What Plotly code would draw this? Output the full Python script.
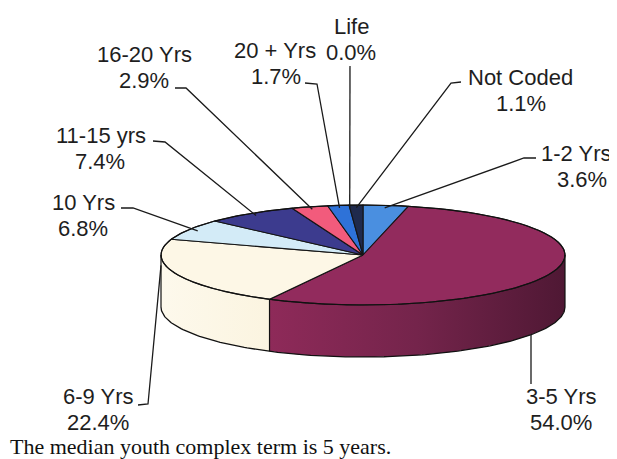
import numpy as np
import plotly.graph_objects as go

# ---------------- data ----------------
categories = ["1-2 Yrs", "3-5 Yrs", "6-9 Yrs", "10 Yrs", "11-15 yrs",
              "16-20 Yrs", "20 + Yrs", "Life", "Not Coded"]
percents = [3.6, 54.0, 22.4, 6.8, 7.4, 2.9, 1.7, 0.0, 1.1]
value_labels = ["3.6%", "54.0%", "22.4%", "6.8%", "7.4%", "2.9%", "1.7%", "0.0%", "1.1%"]
caption = "The median youth complex term is 5 years."

# ---------------- style / layout ----------------
top_colors = {
    "1-2 Yrs": "#4a8fe0", "3-5 Yrs": "#922b5d", "6-9 Yrs": "#fdf7e6",
    "10 Yrs": "#d3ebf7", "11-15 yrs": "#3c3b8e", "16-20 Yrs": "#f25b7c",
    "20 + Yrs": "#2e72d8", "Life": "#6a6a6a", "Not Coded": "#1f2a4c",
}
# wall gradient, left -> right
wall_scale = {
    "3-5 Yrs": [[0, "#8e2a59"], [0.5, "#74244b"], [1, "#4f1834"]],
    "6-9 Yrs": [[0, "#fdf9ec"], [1, "#fbf4e0"]],
}

W, H = 617, 459
CX, CY, A, B, DEPTH = 355, 247, 202, 50, 52
FONT = "Liberation Sans, Arial, sans-serif"
LABEL_SIZE = 22

# label layout: centre of line 1 (x1, y1), centre of line 2 (x2, y2),
# leader path points near the label, anchor type
label_layout = {
    "Life":      dict(x1=343, y1=18,  x2=343, y2=44,  path=[(342, 58)], anchor="top"),
    "20 + Yrs":  dict(x1=267, y1=42,  x2=268, y2=68,  path=[(297, 75), (309, 76)], anchor="top"),
    "16-20 Yrs": dict(x1=136, y1=46,  x2=136, y2=72,  path=[(167, 80), (178, 80)], anchor="top"),
    "Not Coded": dict(x1=512, y1=69,  x2=513, y2=95,  path=[(453, 74), (443, 75)], anchor="top"),
    "11-15 yrs": dict(x1=93,  y1=127, x2=92,  y2=153, path=[(145, 133), (157, 134)], anchor="top"),
    "1-2 Yrs":   dict(x1=568, y1=145, x2=574, y2=171, path=[(528, 150), (516, 150)], anchor="top"),
    "10 Yrs":    dict(x1=75,  y1=194, x2=75,  y2=220, path=[(113, 200), (125, 200)], anchor="top"),
    "6-9 Yrs":   dict(x1=90,  y1=388, x2=90,  y2=414, path=[(130, 397), (140, 396)], anchor="edge"),
    "3-5 Yrs":   dict(x1=553, y1=388, x2=553, y2=414, path=[(523, 376)], anchor="below"),
}


def rim(theta_deg, f=1.0, dz=0.0):
    t = np.radians(theta_deg)
    return CX + f * A * np.sin(t), CY - f * B * np.cos(t) + dz


total = sum(percents)
spans = np.array(percents) / total * 360.0
starts = np.concatenate([[0.0], np.cumsum(spans)[:-1]])
ends = starts + spans

fig = go.Figure()


def poly(xs, ys, fill, line_color=None, line_width=0.0, gradient=None):
    kw = {}
    if gradient is not None:
        kw["fillgradient"] = dict(type="horizontal", colorscale=gradient)
    fig.add_trace(go.Scatter(
        x=list(xs), y=list(ys), mode="lines", fill="toself",
        fillcolor=fill, line=dict(color=line_color or fill, width=line_width),
        hoverinfo="skip", showlegend=False, **kw))


def line(xs, ys, color="#111111", width=1.3):
    fig.add_trace(go.Scatter(
        x=list(xs), y=list(ys), mode="lines",
        line=dict(color=color, width=width),
        hoverinfo="skip", showlegend=False))


# ---- side walls (front half: 90..270 deg) ----
wall_edges = set([90.0, 270.0])
for cat, s, e in zip(categories, starts, ends):
    lo, hi = max(s, 90.0), min(e, 270.0)
    if hi <= lo:
        continue
    if 90.0 < s < 270.0:
        wall_edges.add(s)
    if 90.0 < e < 270.0:
        wall_edges.add(e)
    th = np.linspace(lo, hi, max(3, int(hi - lo) + 2))
    xt, yt = rim(th)
    xb, yb = rim(th[::-1], dz=DEPTH)
    scale = wall_scale.get(cat, [[0, "#999999"], [1, "#666666"]])
    poly(np.concatenate([xt, xb, xt[:1]]), np.concatenate([yt, yb, yt[:1]]),
         scale[0][1], scale[0][1], 0, gradient=scale)

# ---- top face slices ----
for cat, s, e in zip(categories, starts, ends):
    if e - s <= 0:
        continue
    th = np.linspace(s, e, max(3, int(e - s) + 2))
    xr, yr = rim(th)
    xs = np.concatenate([[CX], xr, [CX]])
    ys = np.concatenate([[CY], yr, [CY]])
    poly(xs, ys, top_colors[cat], "#151515", 1.1)

# ---- wall outlines ----
th = np.linspace(90, 270, 181)
xb, yb = rim(th, dz=DEPTH)
line(xb, yb, width=1.3)
for a in sorted(wall_edges):
    x0, y0 = rim(a)
    line([x0, x0], [y0, y0 + DEPTH], width=1.2)
th = np.linspace(0, 360, 361)
xr, yr = rim(th)
line(xr, yr, width=1.2)

# ---- leader lines and labels ----
annotations = []
for cat, lab, s, e in zip(categories, value_labels, starts, ends):
    L = label_layout[cat]
    mid = (s + e) / 2.0
    if L["anchor"] == "top":
        ax, ay = rim(mid, f=0.95)
    elif L["anchor"] == "below":
        px = L["path"][-1][0]
        ax = px
        ay = CY + B * np.sqrt(max(0.0, 1 - ((px - CX) / A) ** 2)) + DEPTH
    else:  # outer-most rim point of the slice on the label side, partway down the wall
        th_s = np.linspace(s, e, 200)
        xs_, ys_ = rim(th_s)
        i = int(np.argmin(xs_))
        ax, ay = xs_[i], ys_[i] + DEPTH * 0.2
    pts = L["path"] + [(ax, ay)]
    line([p[0] for p in pts], [p[1] for p in pts], color="#1a1a1a", width=1.3)
    for txt, xk, yk in ((cat, "x1", "y1"), (lab, "x2", "y2")):
        annotations.append(dict(
            x=L[xk], y=L[yk], xref="x", yref="y", text=txt,
            showarrow=False, xanchor="center", yanchor="middle",
            font=dict(family=FONT, size=LABEL_SIZE, color="#1e1e1e")))

annotations.append(dict(
    x=0, y=438, xref="x", yref="y", text=caption, showarrow=False,
    xanchor="left", yanchor="middle",
    font=dict(family="Liberation Serif, Times New Roman, serif", size=22, color="#111111")))

fig.update_layout(
    width=W, height=H, margin=dict(l=0, r=0, t=0, b=0),
    paper_bgcolor="white", plot_bgcolor="white",
    xaxis=dict(range=[0, W], visible=False, fixedrange=True),
    yaxis=dict(range=[H, 0], visible=False, fixedrange=True),
    annotations=annotations, showlegend=False,
)

fig.write_html("out.html")
